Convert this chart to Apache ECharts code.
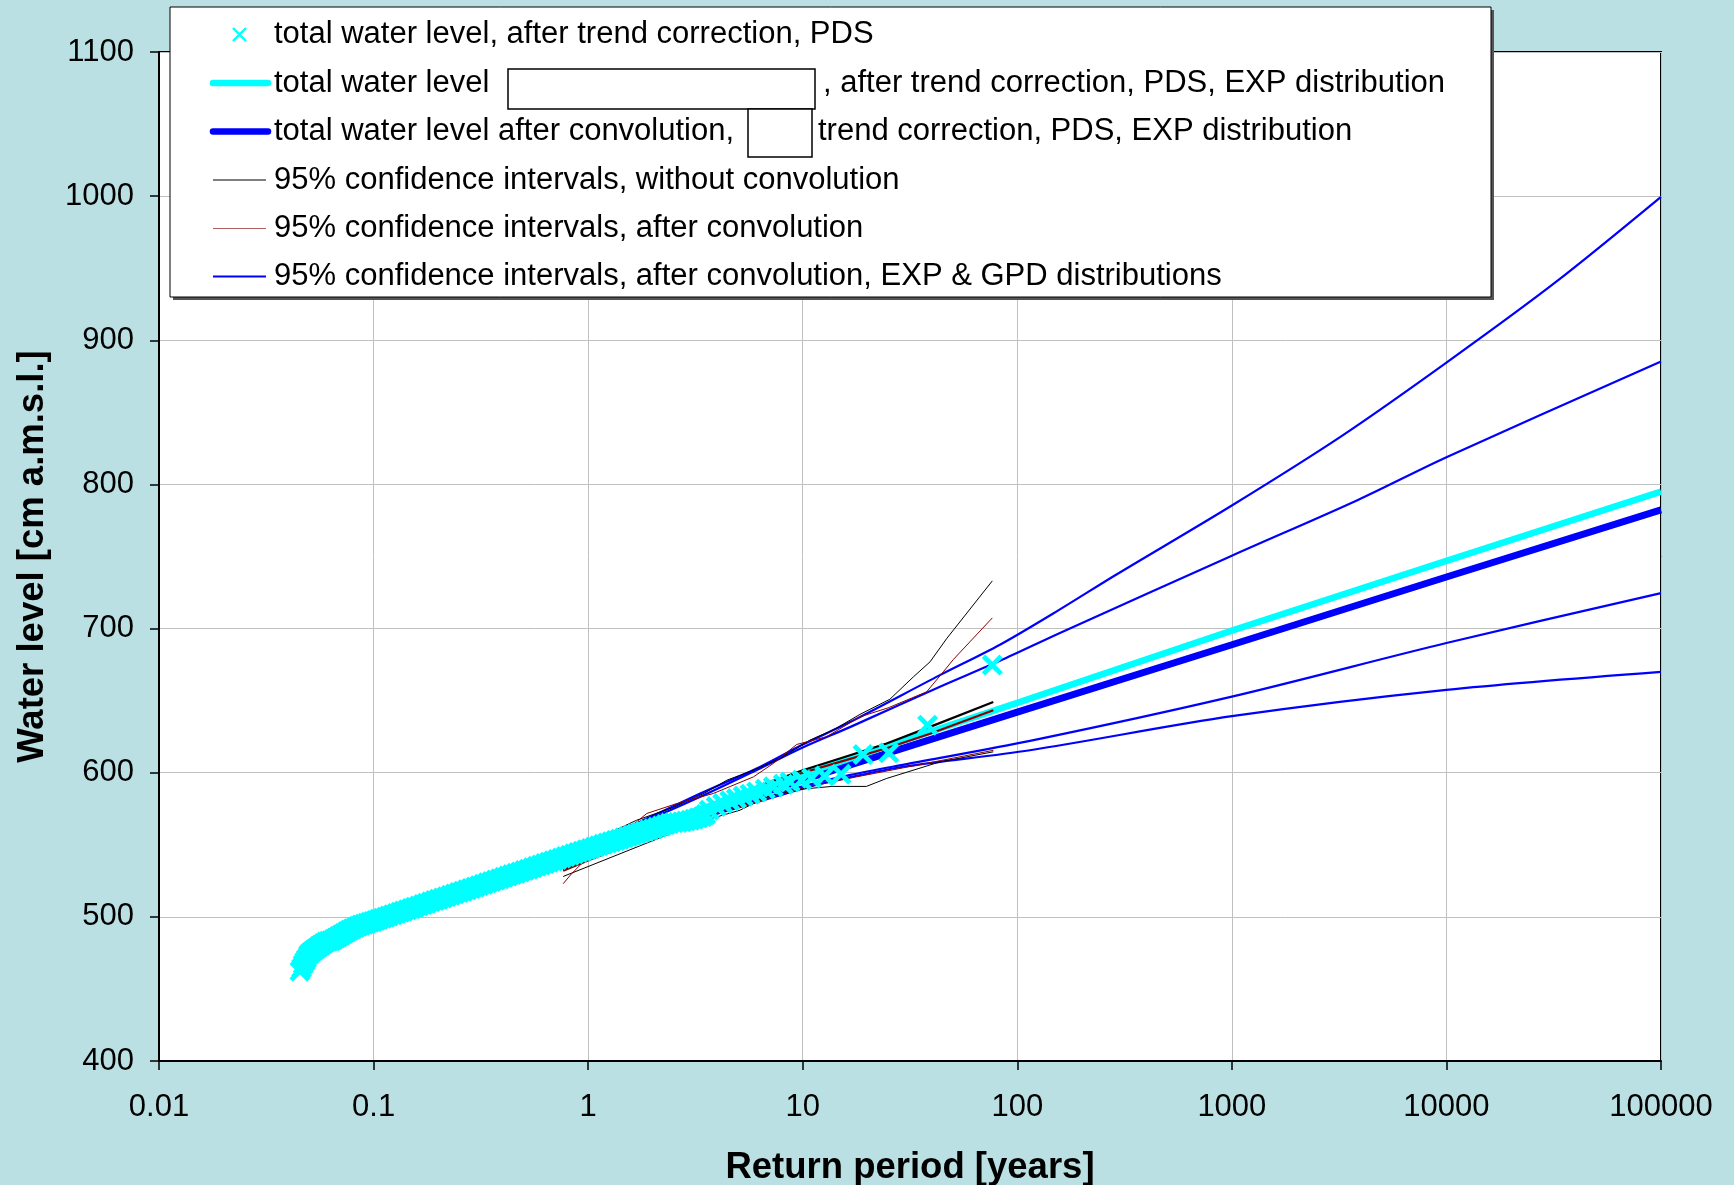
<!DOCTYPE html>
<html>
<head>
<meta charset="utf-8">
<script src="https://cdn.jsdelivr.net/npm/echarts/dist/echarts.min.js"></script>
<style>
html,body{margin:0;padding:0;background:#BAE0E3;}
#chart{width:1734px;height:1185px;}
</style>
</head>
<body>
<div id="chart"></div>
<script>
// ---------- DATA ----------
const xTickLabels = ['0.01','0.1','1','10','100','1000','10000','100000'];

// PDS sample: total water level after trend correction (return period [years], level [cm])
const pdsT = [0.0454,0.0462,0.047,0.0478,0.0487,0.0497,0.0507,0.0518,0.053,0.0543,
  0.0556,0.057,0.0585,0.06,0.0616,0.0633,0.065,0.0668,0.0687,0.0707,
  0.0728,0.075,0.0773,0.0797,0.0822,0.0848,0.0875,0.0903,0.0932,0.0962,
  0.0993,0.1025,0.106,0.11,0.114,0.118,0.123,0.128,0.133,0.138,
  0.144,0.15,0.156,0.163,0.17,0.177,0.185,0.193,0.201,0.21,
  0.219,0.229,0.239,0.25,0.261,0.273,0.285,0.298,0.311,0.325,
  0.34,0.355,0.371,0.388,0.405,0.423,0.442,0.462,0.483,0.505,
  0.528,0.552,0.577,0.603,0.63,0.658,0.688,0.719,0.752,0.786,
  0.822,0.859,0.898,0.939,0.982,1.027,1.074,1.123,1.174,1.228,
  1.284,1.343,1.404,1.468,1.535,1.605,1.678,1.755,1.835,1.919,
  2.007,2.1,2.2,2.3,2.4,2.51,2.62,2.74,2.86,2.99,
  3.12,3.26,3.41,3.53,
  3.67,3.95,4.24,4.57,4.91,5.28,5.68,6.10,6.69,7.29,
  8.12,8.73,9.89,11.0,12.66,15.1,19.1,25.2,38.2,76.5];
const pdsV = [462.3,464.5,467,469,471,473.5,475,476,477.2,478.3,
  479.4,480.5,481.5,482.5,483,483.5,484.3,485.3,486.3,487.4,
  488.5,489.6,490.7,491.7,492.6,493.5,494.3,494.8,495.5,496.2,
  496.8,497.5,498.3,499.1,499.8,500.6,501.5,502.4,503.2,504,
  504.9,505.8,506.7,507.6,508.5,509.4,510.4,511.3,512.2,513.1,
  514,515,515.9,516.9,517.8,518.8,519.7,520.7,521.6,522.6,
  523.6,524.5,525.5,526.4,527.4,528.3,529.3,530.2,531.2,532.2,
  533.1,534.1,535.1,536,537,537.9,538.9,539.8,540.8,541.8,
  542.7,543.7,544.7,545.6,546.6,547.5,548.5,549.4,550.3,551.2,
  552.1,553,553.9,554.8,555.7,556.7,557.6,558.5,559.4,560.3,
  561.2,562.1,563.1,564,564.9,565.3,565.5,566,566.5,567,
  567.8,568.5,569.5,571,
  574,576.5,578.6,580.5,582.1,583.7,585.1,586.7,588.6,590.2,
  592,593.6,594.8,596.2,597.8,599,612.6,613.8,633,674.7];

// fitted EXP lines
const fitT = [1, 10, 100, 1000, 10000, 100000];
const fitNoConvV = [548, 599, 648.5, 698.6, 747, 795];
const fitConvV   = [548, 595, 642, 688.8, 735.8, 782.4];

// 95% CI without convolution (black)
const ciNoConvUpT = [0.77,1.29,1.68,2.5,3.5,4.43,5.89,7.84,10.8,14,18.5,25.5,32.8,39.2,46.9,76.5];
const ciNoConvUpV = [545,559,567,576,586,594.8,601.7,609.9,622.6,630,640.5,651,666.5,676.9,693.1,733.1];
const ciNoConvMidT = [0.765,4.1,6.1,10,14.9,24.6,39.2,77.3];
const ciNoConvMidV = [533,577.5,590.2,601.7,609.9,620.3,631.8,649.1];
const ciNoConvLoT = [0.765,3.33,5.1,6.79,9.72,13.7,19.8,24.6,43.6,77.3];
const ciNoConvLoV = [528,566,574,583.2,588.5,590.5,590.5,596,607.5,614.5];

// 95% CI after convolution (brown)
const ciConvUpT = [0.77,1.0,1.4,1.875,2.54,3.83,5.89,7.29,9.37,12.9,18.5,25,37.8,45.2,50.4,76.5];
const ciConvUpV = [541,546,556,571.7,578.2,585.6,597.1,606.4,619.6,624.9,638.8,645,656.1,670,678.6,707.4];
const ciConvMidT = [0.765,4.1,6.1,10,14.9,24.6,39.2,77.3];
const ciConvMidV = [532,576.5,589,600,607.5,617,627,643.4];
const ciConvLoT = [0.765,0.838,0.95,1.4,3.33,5.1,9.72,17.8,40.8,77.3];
const ciConvLoV = [523,530,538.1,547,568,576.5,589,597.1,607.5,615.5];

// 95% CI after convolution, EXP & GPD (blue)
const ciGpdUpT = [1.24,1.745,3.33,6.32,10,16.7,43.6,83,158,286,1000,3258,10000,32280,100000];
const ciGpdUpV = [558,566,585.6,604,619.5,635.3,667.7,688.8,713.3,737,785.4,833.7,884.5,940.3,999.5];
const ciExpUpT = [1.24,1.745,3.33,6.32,10,16.7,43.6,83,158,1000,3846,10000,100000];
const ciExpUpV = [557,565,583.3,603,617.5,631.8,659.6,677.6,696.9,750.6,789.1,818.9,885.3];
const ciExpLoT = [1.24,4.26,10,16.7,30.5,114.6,1000,10000,100000];
const ciExpLoV = [551,574,590.5,598.5,606,622.1,652.8,690,724.6];
const ciGpdLoT = [1.24,4.26,10,16.7,30.5,114.6,1000,10000,100000];
const ciGpdLoV = [550,572.7,589,597,604.5,615.6,639.2,657.5,670];

const legendLabels = [
  'total water level, after trend correction, PDS',
  ['total water level', ', after trend correction, PDS, EXP distribution'],
  ['total water level after convolution,', 'trend correction, PDS, EXP distribution'],
  '95% confidence intervals, without convolution',
  '95% confidence intervals, after convolution',
  '95% confidence intervals, after convolution, EXP & GPD distributions'
];

// ---------- CHART ----------
const FONT = '"Liberation Sans", Arial, Helvetica, sans-serif';
const zip = (a, b) => a.map((t, i) => [t, b[i]]);
const XPATH = 'path://M0,1.6L1.6,0L5,3.4L8.4,0L10,1.6L6.6,5L10,8.4L8.4,10L5,6.6L1.6,10L0,8.4L3.4,5Z';
const CYAN = '#00FFFF', BLUE = '#0000FF', BROWN = '#8B0000', BLACK = '#000000';

function lineSeries(T, V, color, width, z, smooth) {
  return { type: 'line', data: zip(T, V), symbol: 'none', showSymbol: false, smooth: smooth || false,
    lineStyle: { color: color, width: width }, itemStyle: { color: color }, z: z, silent: true };
}

const chart = echarts.init(document.getElementById('chart'), null, { renderer: 'canvas' });

const rowsY = [34.5, 83, 131.5, 180, 228.5, 276.5];
const graphic = [];
graphic.push({ type: 'rect', shape: { x: 173, y: 10, width: 1321, height: 290 }, style: { fill: '#555555' }, z: 100 });
graphic.push({ type: 'rect', shape: { x: 170, y: 7, width: 1321, height: 290 }, style: { fill: '#ffffff', stroke: '#000', lineWidth: 1 }, z: 101 });
// icons
graphic.push({ type: 'line', shape: { x1: 233, y1: rowsY[0] - 6.5, x2: 246, y2: rowsY[0] + 6.5 }, style: { stroke: CYAN, lineWidth: 2.4 }, z: 102 });
graphic.push({ type: 'line', shape: { x1: 246, y1: rowsY[0] - 6.5, x2: 233, y2: rowsY[0] + 6.5 }, style: { stroke: CYAN, lineWidth: 2.4 }, z: 102 });
graphic.push({ type: 'line', shape: { x1: 213, y1: rowsY[1], x2: 268, y2: rowsY[1] }, style: { stroke: CYAN, lineWidth: 6.5, lineCap: 'round' }, z: 102 });
graphic.push({ type: 'line', shape: { x1: 213, y1: rowsY[2], x2: 268, y2: rowsY[2] }, style: { stroke: BLUE, lineWidth: 6.5, lineCap: 'round' }, z: 102 });
graphic.push({ type: 'line', shape: { x1: 213, y1: rowsY[3], x2: 266, y2: rowsY[3] }, style: { stroke: BLACK, lineWidth: 1 }, z: 102 });
graphic.push({ type: 'line', shape: { x1: 213, y1: rowsY[4], x2: 266, y2: rowsY[4] }, style: { stroke: '#B06060', lineWidth: 1 }, z: 102 });
graphic.push({ type: 'line', shape: { x1: 213, y1: rowsY[5], x2: 266, y2: rowsY[5] }, style: { stroke: BLUE, lineWidth: 2 }, z: 102 });
function legText(txt, x, y) {
  return { type: 'text', x: x, y: y, style: { text: txt, fontSize: 31, fontFamily: FONT, fill: '#000', verticalAlign: 'middle', align: 'left' }, z: 102 };
}
graphic.push(legText(legendLabels[0], 274, rowsY[0]));
graphic.push(legText(legendLabels[1][0], 274, rowsY[1]));
graphic.push(legText(legendLabels[1][1], 823, rowsY[1]));
graphic.push(legText(legendLabels[2][0], 274, rowsY[2]));
graphic.push(legText(legendLabels[2][1], 818, rowsY[2]));
graphic.push(legText(legendLabels[3], 274, rowsY[3]));
graphic.push(legText(legendLabels[4], 274, rowsY[4]));
graphic.push(legText(legendLabels[5], 274, rowsY[5]));
// covering boxes
graphic.push({ type: 'rect', shape: { x: 508, y: 69, width: 307, height: 40 }, style: { fill: '#fff', stroke: '#000', lineWidth: 1.5 }, z: 103 });
graphic.push({ type: 'rect', shape: { x: 748, y: 109, width: 64, height: 48 }, style: { fill: '#fff', stroke: '#000', lineWidth: 1.5 }, z: 103 });

const option = {
  animation: false,
  backgroundColor: '#BAE0E3',
  grid: { left: 159, right: 73, top: 52, bottom: 124, show: true, backgroundColor: '#ffffff', borderColor: '#000', borderWidth: 2,
    containLabel: false, outerBoundsMode: 'none' },
  xAxis: {
    type: 'log', logBase: 10, min: 0.01, max: 100000, splitNumber: 7,
    name: 'Return period [years]', nameLocation: 'middle', nameGap: 88,
    nameTextStyle: { fontSize: 36.5, fontWeight: 'bold', color: '#000', fontFamily: FONT },
    axisLine: { show: true, lineStyle: { color: '#000', width: 2 } },
    axisTick: { show: true, inside: false, length: 9, lineStyle: { color: '#000', width: 1.5 } },
    axisLabel: { margin: 31, fontSize: 31, color: '#000', fontFamily: FONT,
      formatter: function (v) { const i = Math.round(Math.log10(v)) + 2; return xTickLabels[i] !== undefined ? xTickLabels[i] : ''; } },
    splitLine: { show: true, lineStyle: { color: '#C0C0C0', width: 1 } },
    minorTick: { show: false }
  },
  yAxis: {
    type: 'value', min: 400, max: 1100, interval: 100,
    name: 'Water level [cm a.m.s.l.]', nameLocation: 'middle', nameGap: 108, nameRotate: 90,
    nameTextStyle: { fontSize: 36.5, fontWeight: 'bold', color: '#000', fontFamily: FONT },
    axisLine: { show: true, lineStyle: { color: '#000', width: 2 } },
    axisTick: { show: true, inside: false, length: 9, lineStyle: { color: '#000', width: 1.5 } },
    axisLabel: { margin: 25, fontSize: 31, color: '#000', fontFamily: FONT,
      formatter: function (v) { return String(v); } },
    splitLine: { show: true, lineStyle: { color: '#C0C0C0', width: 1 } }
  },
  graphic: graphic,
  series: [
    lineSeries(ciGpdUpT, ciGpdUpV, BLUE, 2.2, 2, 0.3),
    lineSeries(ciExpUpT, ciExpUpV, BLUE, 2.2, 2, 0.3),
    lineSeries(ciExpLoT, ciExpLoV, BLUE, 2.2, 2, 0.3),
    lineSeries(ciGpdLoT, ciGpdLoV, BLUE, 2.2, 2, 0.3),
    lineSeries(fitT, fitConvV, BLUE, 7, 3),
    lineSeries(fitT, fitNoConvV, CYAN, 6.5, 3),
    lineSeries(ciNoConvUpT, ciNoConvUpV, BLACK, 1, 4),
    lineSeries(ciNoConvLoT, ciNoConvLoV, BLACK, 1, 4),
    lineSeries(ciNoConvMidT, ciNoConvMidV, BLACK, 2.2, 4),
    lineSeries(ciConvUpT, ciConvUpV, BROWN, 1, 4),
    lineSeries(ciConvLoT, ciConvLoV, BROWN, 1, 4),
    lineSeries(ciConvMidT, ciConvMidV, BROWN, 2.2, 4),
    { type: 'scatter', data: zip(pdsT, pdsV), symbol: XPATH, symbolSize: 21,
      itemStyle: { color: CYAN, opacity: 1 }, z: 5, silent: true }
  ]
};
chart.setOption(option);
</script>
</body>
</html>
